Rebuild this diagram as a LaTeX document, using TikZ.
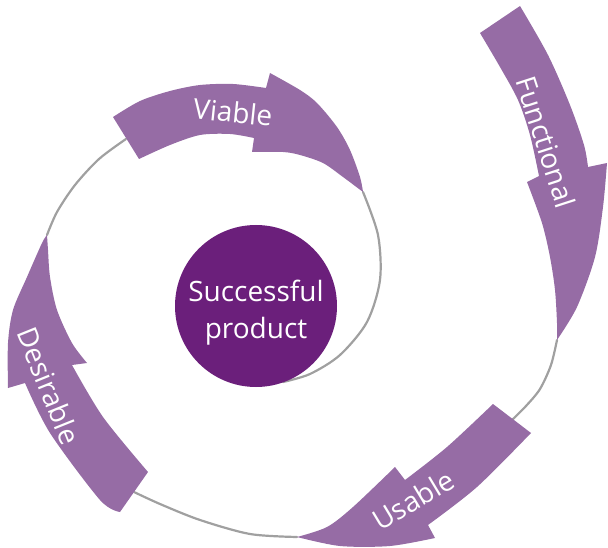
\documentclass[tikz,border=0pt]{standalone}
\usepackage{fontspec}
\setmainfont{Open Sans}
\usepackage{tikz}
\definecolor{arrowpurple}{RGB}{150,108,165}
\definecolor{corepurple}{RGB}{107,31,123}
\definecolor{spiralgray}{RGB}{160,160,160}
\tikzset{
    spiralarrow/.style = {fill=arrowpurple},
    spiralline/.style = {draw=spiralgray, line width=2.2pt},
    arrowlabel/.style = {text=white, inner sep=0pt, font=\fontsize{28}{34}\selectfont},
    corelabel/.style = {text=white, inner sep=0pt, align=center, font=\fontsize{28}{37}\selectfont}
}

\begin{document}
\begin{tikzpicture}[line cap=round,line join=round,x=1pt,y=-1pt]
\useasboundingbox (0,0) rectangle (608,548);

\coordinate (functip) at (557,340);
\coordinate (usabletail) at (512,420);
\coordinate (usabletip) at (297,537);
\coordinate (desirabletail) at (134,492);
\coordinate (desirabletip) at (47,235);
\coordinate (viabletail) at (126,139);
\coordinate (viabletip) at (363,192);
\coordinate (coreend) at (283,382);

\draw [spiralline] plot[smooth] coordinates {(functip) (551,365) (540,389) (526,406) (usabletail)};
\draw [spiralline] plot[smooth] coordinates {(usabletip) (250,534) (200,520) (160,504) (desirabletail)};
\draw [spiralline] plot[smooth] coordinates {(desirabletip) (57,212) (75,185) (99,159) (viabletail)};
\draw [spiralline] plot[smooth] coordinates {(viabletip) (378,235) (380,280) (367,322) (340,355) (310,374) (coreend)};

\fill [spiralarrow] plot[smooth] coordinates {(480,33) (500,67) (518,100) (530,135) (539,176)} -- (527,182)
    -- plot[smooth] coordinates {(527,182) (542,223) (550,257) (555,290) (557,323) (functip)}
    -- plot[smooth] coordinates {(functip) (577,307) (595,257) (603,207) (607,163)} -- (588,167)
    -- plot[smooth] coordinates {(588,167) (584,145) (570,105) (548,55) (520,6)} -- cycle;
\fill [spiralarrow] plot[smooth] coordinates {(493,404) (447,447) (405,480)} -- (395,467)
    -- plot[smooth] coordinates {(395,467) (353,507) (327,527) (usabletip)}
    -- plot[smooth] coordinates {(usabletip) (340,546) (390,546) (435,538)} -- (428,525)
    -- plot[smooth] coordinates {(428,525) (477,487) (531,433)} -- cycle;
\fill [spiralarrow] plot[smooth] coordinates {(148,472) (103,417) (72,365)} -- (87,363)
    -- plot[smooth] coordinates {(87,363) (72,343) (57,310) (50,277) (48,250) (desirabletip)}
    -- plot[smooth] coordinates {(desirabletip) (42,243) (27,277) (13,310) (8,343) (8,388)} -- (25,383)
    -- plot[smooth] coordinates {(25,383) (50,433) (100,500) (120,512)} -- cycle;
\fill [spiralarrow] plot[smooth] coordinates {(113,117) (140,101) (170,91) (200,85) (233,84) (266,88)} -- (270,73)
    -- plot[smooth] coordinates {(270,73) (300,90) (317,103) (337,127) (350,150) (360,177) (viabletip)}
    -- plot[smooth] coordinates {(viabletip) (343,177) (323,163) (300,155) (283,152) (252,152)} -- (254,138)
    -- plot[smooth] coordinates {(254,138) (230,134) (200,135) (170,145) (139,159)} -- cycle;

\node [arrowlabel, rotate=-72] (functional) at (546,142) {Functional};
\node [arrowlabel, rotate=31] (usable) at (413,500) {Usable};
\node [arrowlabel, rotate=-68] (desirable) at (49,386) {Desirable};
\node [arrowlabel, rotate=-6] (viable) at (233,112) {Viable};

\node [circle, fill=corepurple, minimum size=162pt, inner sep=0pt] (core) at (256,306) {};
\node [corelabel] (coretext) at (256,313) {Successful\\product};
\end{tikzpicture}
\end{document}
